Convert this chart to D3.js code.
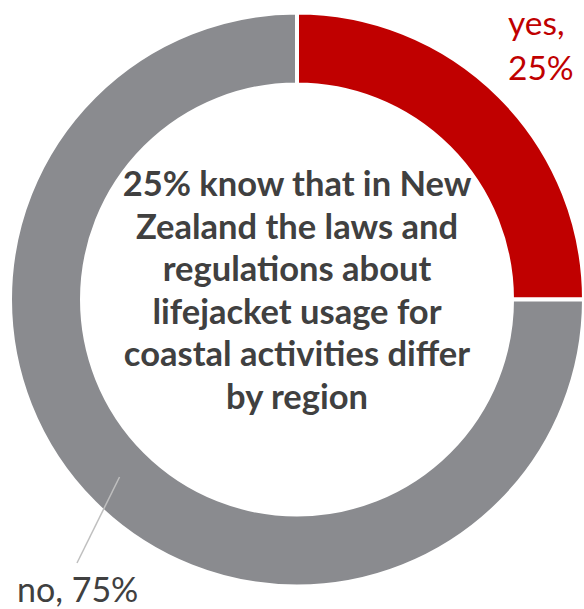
<!DOCTYPE html>
<html>
<head>
<meta charset="utf-8">
<script src="https://cdn.jsdelivr.net/npm/d3@7"></script>
<style>
  body { margin: 0; background: #fff; }
  svg { display: block; }
</style>
</head>
<body>
<svg id="chart" width="584" height="609"></svg>
<script>
const categories = ["yes", "no"]
const values = [25, 75]
const colors = ["#c00000", "#8a8b8f"]
const labelColors = ["#c00000", "#404040"]
const centerLines = [
  "25% know that in New",
  "Zealand the laws and",
  "regulations about",
  "lifejacket usage for",
  "coastal activities differ",
  "by region"
]

const W = 584, H = 609
const CX = 297, CY = 299.5
const R_OUT = 287, R_IN = 215
const FONT = "Lato, 'Open Sans', sans-serif"

const svg = d3.select("#chart")
const g = svg.append("g").attr("transform", `translate(${CX}, ${CY})`)

const pie = d3.pie().sort(null).value(d => d.value)
const arc = d3.arc().innerRadius(R_IN).outerRadius(R_OUT)
const mid = d3.arc().innerRadius((R_IN + R_OUT) / 2).outerRadius((R_IN + R_OUT) / 2)

const data = categories.map((c, i) => ({ cat: c, value: values[i], i }))
const arcs = pie(data)

g.selectAll("path.slice")
  .data(arcs)
  .join("path")
  .attr("class", "slice")
  .attr("d", arc)
  .attr("fill", d => colors[d.data.i])
  .attr("stroke", "#fff")
  .attr("stroke-width", 4)

// labels
const fmt = d => `${d.data.cat}, ${d.data.value}%`

// yes label: two lines, right of the top of the ring
const yes = arcs[0]
g.append("text")
  .attr("y", 35 - CY)
  .attr("font-family", FONT)
  .attr("font-size", 33.5)
  .attr("fill", labelColors[0])
  .selectAll("tspan")
  .data([`${yes.data.cat},`, `${yes.data.value}%`])
  .join("tspan")
  .attr("x", 508 - CX)
  .attr("dy", (d, i) => i ? 45 : 0)
  .text(d => d)

// no label with leader line from slice centroid
const no = arcs[1]
const [mx, my] = mid.centroid(no)
g.append("line")
  .attr("x1", mx).attr("y1", my)
  .attr("x2", 77 - CX).attr("y2", 563 - CY)
  .attr("stroke", "#bfbfbf")
  .attr("stroke-width", 1.5)

g.append("text")
  .attr("x", 17 - CX)
  .attr("y", 602 - CY)
  .attr("font-family", FONT)
  .attr("font-size", 34)
  .attr("fill", labelColors[1])
  .text(fmt(no))

// center text
g.append("text")
  .attr("text-anchor", "middle")
  .attr("font-family", FONT)
  .attr("font-weight", "bold")
  .attr("font-size", 34.5)
  .attr("fill", "#404040")
  .selectAll("tspan")
  .data(centerLines)
  .join("tspan")
  .attr("x", 0)
  .attr("y", (d, i) => 196 - CY + i * 42.6)
  .text(d => d)
</script>
</body>
</html>
